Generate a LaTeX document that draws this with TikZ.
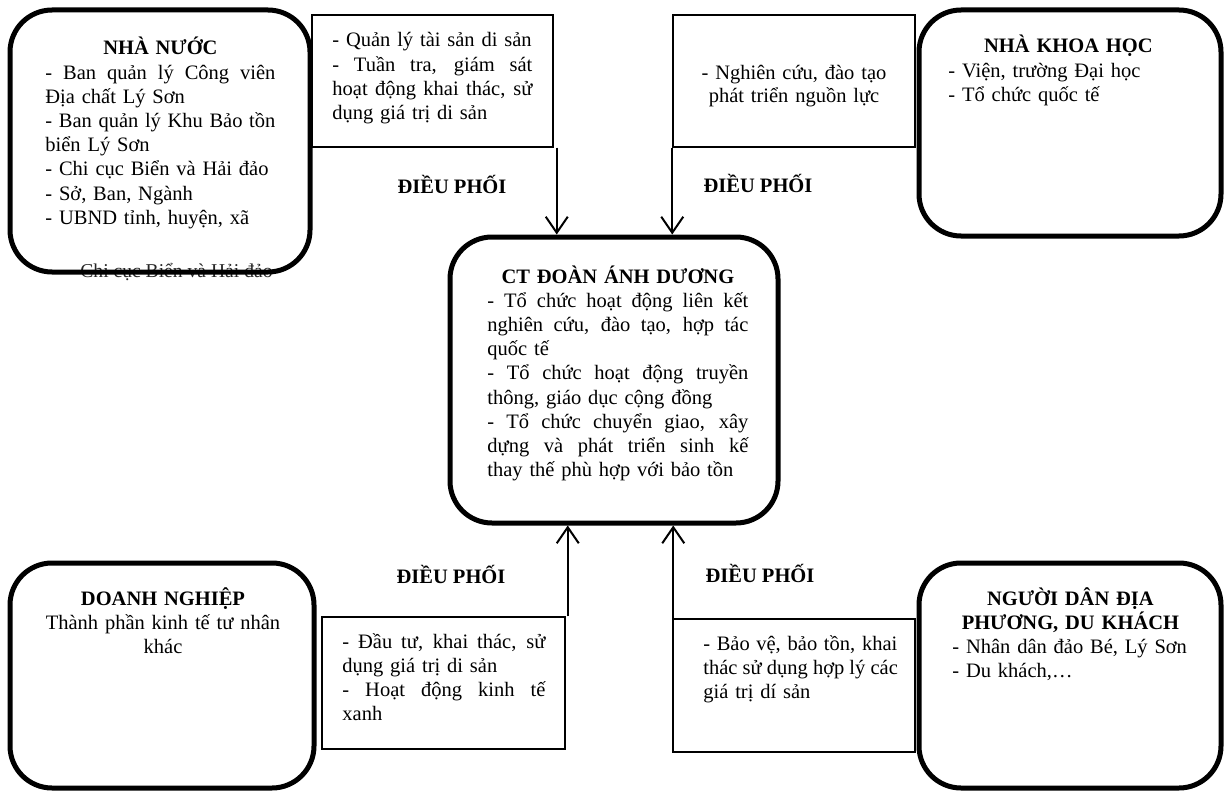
\documentclass[tikz,border=0pt]{standalone}
\usepackage{fontspec}
\setmainfont{Liberation Serif}
\usetikzlibrary{arrows.meta}

% a line stretched to the full text width, and a centred line
\newcommand{\jl}[1]{\makebox[\hsize][s]{\spaceskip=\fontdimen2\font plus 1fil\relax #1}}
\newcommand{\ctr}[1]{\makebox[\hsize][c]{#1}}

\begin{document}
\begin{tikzpicture}[x=0.5pt,y=-0.5pt,
  every node/.style={font=\fontsize{10.25}{12.1}\selectfont},
  actor/.style={draw, line width=2.5pt, rounded corners=21pt, inner sep=0pt},
  role/.style={draw, line width=0.75pt, inner sep=0pt},
  txt/.style={inner sep=0pt, anchor=base west, align=left},
  ctxt/.style={inner sep=0pt, anchor=base, align=center},
  arr/.style={line width=1pt, -{Straight Barb[length=8pt,width=11pt,line width=1pt]}},
  lbl/.style={font=\fontsize{10.25}{12.1}\selectfont\bfseries, inner sep=0pt, anchor=base}]

\useasboundingbox (0,0) rectangle (1226,792);

% stray line of text lying under the frame of the first box
\node[txt, text=black!85, font=\fontsize{9.8}{11}\selectfont] (ghost) at (80,277) {Chi cục Biển và Hải đảo};

% stakeholder boxes
\node[actor, minimum width=150pt, minimum height=131pt] (nn) at (160,141) {};
\node[actor, minimum width=151pt, minimum height=113pt] (kh) at (1070,123) {};
\node[actor, minimum width=164pt, minimum height=143pt] (ct) at (614,380) {};
\node[actor, minimum width=152pt, minimum height=112.5pt] (dn) at (162,675.5) {};
\node[actor, minimum width=151pt, minimum height=112.5pt] (nd) at (1070,675.5) {};

% role boxes
\node[role, minimum width=120.5pt, minimum height=66pt] (q) at (432.5,81) {};
\node[role, minimum width=121pt, minimum height=66pt] (n) at (794,81) {};
\node[role, minimum width=121.5pt, minimum height=66pt] (d) at (443.5,683) {};
\node[role, minimum width=121pt, minimum height=66.5pt] (b) at (794,685.5) {};

% texts of the stakeholder boxes
\node[txt, text width=115pt] (nnt) at (45,55) {\ctr{\bfseries NHÀ NƯỚC}\\
\jl{- Ban quản lý Công viên}\\
Địa chất Lý Sơn\\
\jl{- Ban quản lý Khu Bảo tồn}\\
biển Lý Sơn\\
- Chi cục Biển và Hải đảo\\
- Sở, Ban, Ngành\\
- UBND tỉnh, huyện, xã};

\node[txt, text width=120pt] (kht) at (948,53) {\ctr{\bfseries NHÀ KHOA HỌC}\\
- Viện, trường Đại học\\
- Tổ chức quốc tế};

\node[txt, text width=130.5pt] (ctt) at (487,283) {\ctr{\bfseries CT ĐOÀN ÁNH DƯƠNG}\\
\jl{- Tổ chức hoạt động liên kết}\\
\jl{nghiên cứu, đào tạo, hợp tác}\\
quốc tế\\
\jl{- Tổ chức hoạt động truyền}\\
thông, giáo dục cộng đồng\\
\jl{- Tổ chức chuyển giao, xây}\\
\jl{dựng và phát triển sinh kế}\\
thay thế phù hợp với bảo tồn};

\node[ctxt, text width=125pt] (dnt) at (163,605) {\textbf{DOANH NGHIỆP}\\
Thành phần kinh tế tư nhân\\
khác};

\node[txt, text width=118pt] (ndt) at (952,605) {\ctr{\bfseries NGƯỜI DÂN ĐỊA}\\
\ctr{\bfseries PHƯƠNG, DU KHÁCH}\\
- Nhân dân đảo Bé, Lý Sơn\\
- Du khách,…};

% texts of the role boxes
\node[txt, text width=100pt] (qt) at (332,47) {- Quản lý tài sản di sản\\
\jl{- Tuần tra, giám sát}\\
\jl{hoạt động khai thác, sử}\\
dụng giá trị di sản};

\node[ctxt, text width=110pt] (nt) at (794,80) {- Nghiên cứu, đào tạo\\[-1pt]
phát triển nguồn lực};

\node[txt, text width=101.5pt] (dt) at (342,648) {\jl{- Đầu tư, khai thác, sử}\\
dụng giá trị di sản\\
\jl{- Hoạt động kinh tế}\\
xanh};

\node[txt, text width=97pt] (bt) at (703,650) {\jl{- Bảo vệ, bảo tồn, khai}\\
\jl{thác sử dụng hợp lý các}\\
giá trị dí sản};

% coordination labels
\node[lbl] (dp1) at (452,193) {ĐIỀU PHỐI};
\node[lbl] (dp2) at (758,192) {ĐIỀU PHỐI};
\node[lbl] (dp3) at (451,583) {ĐIỀU PHỐI};
\node[lbl] (dp4) at (760,582) {ĐIỀU PHỐI};

% arrows into the central box
\coordinate (a1) at ([xshift=1.5pt]q.south east);
\coordinate (a2) at (n.south west);
\coordinate (a3) at ([xshift=1pt]d.north east);
\coordinate (a4) at ([xshift=0.5pt]b.north west);
\draw[arr] (a1) -- (a1 |- ct.north);
\draw[arr] (a2) -- (a2 |- ct.north);
\draw[arr] (a3) -- (a3 |- ct.south);
\draw[arr] (a4) -- (a4 |- ct.south);
\end{tikzpicture}
\end{document}
